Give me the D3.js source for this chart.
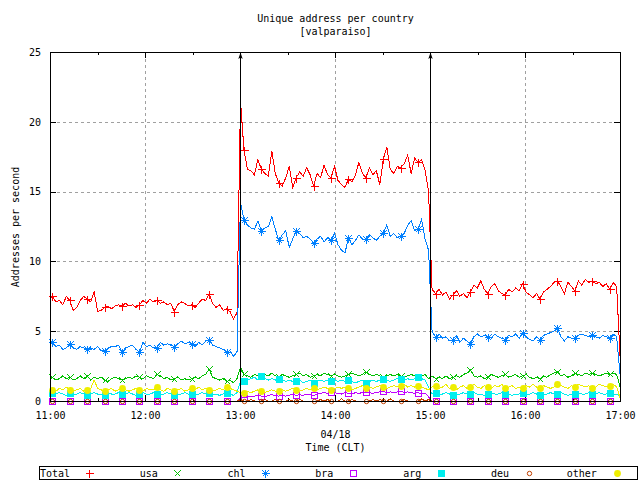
<!DOCTYPE html>
<html><head><meta charset="utf-8">
<script src="https://cdn.jsdelivr.net/npm/d3@7"></script>
<style>
html,body{margin:0;padding:0;background:#fff;width:640px;height:480px;overflow:hidden}
svg{display:block}
</style>
</head><body>
<svg id="c" width="640" height="480"></svg>
<script>
// ---------------- DATA ----------------
const titleLines = ["Unique address per country", "[valparaiso]"];
const yAxisTitle = "Addresses per second";
const xAxisTitleLines = ["04/18", "Time (CLT)"];
const xTickMinutes = [0, 60, 120, 180, 240, 300, 360];
const xTickLabels = ["11:00", "12:00", "13:00", "14:00", "15:00", "16:00", "17:00"];
const xMinorMinutes = [30, 90, 150, 210, 270, 330];
const yTicks = [0, 5, 10, 15, 20, 25];
const gridMinutes = [60, 120, 180, 240, 300];
const gridValues = [5, 10, 15, 20];
const arrowMinutes = [120, 240];
const seriesNames = ["Total", "usa", "chl", "bra", "arg", "deu", "other"];
// samples: minute offset from 11:00 = startMin + i*stepMin ; markers every 5th sample
const startMin = -0.7, stepMin = 2.2;

// segment A: 11:00-13:00, B: 13:00-15:00, C: 15:00-17:00 (55 samples each)
const totalA = [7.3,7.5,7.1,7.2,6.9,7.5,7.2,6.5,6.7,7.2,7.5,7.3,7.1,7.8,6.4,6.5,6.7,6.8,6.6,6.8,6.9,6.8,7.0,6.8,6.9,6.7,6.9,7.2,7.0,7.3,7.1,7.2,7.0,7.1,6.9,7.0,6.4,6.9,7.1,7.0,6.8,6.9,6.7,7.0,7.3,7.2,7.7,7.0,6.7,6.9,6.5,6.6,6.4,5.9,6.3];
const totalB = [21.5,18.0,16.6,16.5,16.2,17.3,16.6,16.3,16.1,17.9,16.3,15.6,15.4,16.0,16.8,15.3,16.0,16.4,16.1,16.7,16.2,15.4,16.3,16.0,16.9,16.2,16.0,16.8,15.8,15.5,15.3,15.9,15.7,16.2,17.1,16.3,16.0,16.7,16.2,16.5,15.5,17.3,18.2,16.6,16.3,16.8,16.7,17.0,17.6,16.3,17.4,17.1,17.3,16.5,15.0];
const totalC = [8.0,7.7,8.0,7.6,7.8,7.3,7.6,7.9,7.5,7.7,7.4,7.8,8.3,8.1,8.6,8.0,7.7,8.2,8.4,7.9,7.7,7.6,8.0,7.8,8.1,7.9,8.4,7.8,7.6,7.4,7.7,7.3,7.8,8.0,8.2,8.5,8.6,8.2,7.7,8.5,8.2,7.9,8.6,8.3,8.7,8.5,8.6,8.4,8.5,8.2,8.4,8.0,8.5,8.2,3.0];

const usaA = [1.7,1.7,1.5,1.6,1.8,1.6,1.7,1.5,1.6,1.8,1.6,1.8,1.5,1.7,1.6,1.7,1.5,1.4,1.6,1.7,1.6,1.5,1.6,1.7,1.6,1.8,1.7,1.6,1.8,1.7,1.6,1.9,1.8,1.6,1.7,1.5,1.6,1.7,1.5,1.6,1.5,1.6,1.7,1.6,1.8,1.9,2.3,1.7,1.6,1.5,1.6,1.4,1.5,1.3,1.6];
const usaB = [2.4,1.9,1.8,1.7,1.9,1.8,1.7,1.9,1.8,2.0,1.8,1.7,1.9,1.8,1.7,1.8,1.9,2.0,1.8,1.9,1.7,1.8,1.9,1.8,2.0,1.9,1.8,1.9,1.8,1.7,1.8,1.9,2.0,1.9,1.8,1.9,2.1,1.9,1.8,1.9,1.8,1.7,1.8,1.9,1.8,1.9,1.8,1.7,1.8,1.9,1.8,1.7,1.8,1.9,1.6];
const usaC = [1.8,1.6,1.7,1.6,1.8,1.6,1.7,1.8,1.7,1.9,2.0,2.25,1.8,1.7,1.8,1.6,1.7,1.9,1.8,1.7,1.8,1.9,1.7,1.8,1.9,1.7,1.8,1.9,1.7,1.6,1.7,1.6,1.8,1.7,1.9,2.0,2.1,1.8,1.9,1.7,1.8,2.0,1.9,1.8,2.0,1.9,2.0,1.9,1.8,1.9,2.0,1.9,2.0,1.9,1.0];

const chlA = [4.3,4.2,3.9,4.0,3.7,3.8,4.1,3.8,3.7,3.9,3.8,3.7,3.8,3.7,3.9,3.6,3.6,3.8,3.9,3.9,4.0,3.5,3.8,3.9,4.0,3.7,3.5,4.2,3.9,4.0,3.8,3.8,4.2,4.0,4.1,4.0,3.9,4.1,4.3,4.1,4.2,4.1,3.9,4.2,4.0,4.3,4.4,4.0,3.9,3.8,3.7,3.5,3.6,3.2,3.5];
const chlB = [14.2,13.0,12.6,12.4,12.3,12.9,12.2,12.4,12.5,13.2,12.3,11.5,11.9,12.2,11.0,11.6,12.2,12.0,11.7,11.8,11.6,11.3,11.6,11.8,11.4,11.7,11.5,12.0,11.2,10.8,10.6,11.7,11.2,11.5,11.9,11.6,11.6,11.9,11.7,11.5,11.8,12.0,12.6,11.8,12.0,11.7,11.8,12.0,12.6,12.9,12.2,12.3,13.0,11.6,10.8];
const chlC = [5.0,4.6,4.8,4.5,4.6,4.3,4.4,4.7,4.2,4.5,4.3,4.1,4.6,4.8,4.6,4.7,4.6,4.5,4.8,4.6,4.5,4.4,4.7,4.6,4.8,4.5,4.9,4.6,4.4,4.3,4.6,4.4,4.7,4.8,4.9,5.0,5.2,4.6,4.3,4.6,4.5,4.5,4.7,4.8,4.7,4.6,4.7,4.6,4.5,4.7,4.6,4.5,4.8,4.6,1.8];

const braA = [0,0,0,0,0,0,0,0,0,0,0,0,0,0,0,0,0,0,0,0,0,0,0,0,0,0,0,0,0,0,0,0,0,0,0,0,0,0,0,0,0,0,0,0,0,0,0,0,0,0,0,0,0,0,0];
const braB = [0.2,0.25,0.3,0.3,0.35,0.4,0.35,0.3,0.4,0.45,0.4,0.35,0.4,0.35,0.4,0.5,0.4,0.45,0.4,0.5,0.45,0.4,0.5,0.55,0.6,0.55,0.65,0.6,0.55,0.5,0.6,0.55,0.5,0.6,0.55,0.6,0.65,0.6,0.55,0.6,0.65,0.7,0.6,0.65,0.6,0.65,0.7,0.6,0.65,0.6,0.55,0.6,0.5,0.55,0.3];
const braC = [0,0,0,0,0,0,0,0,0,0,0,0,0,0,0,0,0,0,0,0,0,0,0,0,0,0,0,0,0,0,0,0,0,0,0,0,0,0,0,0,0,0,0,0,0,0,0,0,0,0,0,0,0,0,0];

const argA = [0.5,0.6,0.5,0.6,0.5,0.4,0.6,0.5,0.5,0.6,0.5,0.4,0.5,0.6,0.5,0.5,0.4,0.6,0.5,0.5,0.6,0.5,0.5,0.6,0.5,0.4,0.5,0.6,0.5,0.5,0.6,0.5,0.4,0.5,0.6,0.5,0.4,0.5,0.5,0.6,0.5,0.5,0.4,0.5,0.6,0.5,0.6,0.5,0.5,0.4,0.5,0.6,0.5,0.4,0.6];
const argB = [1.4,1.4,1.5,1.6,1.7,1.5,1.8,1.6,1.5,1.6,1.5,1.6,1.5,1.4,1.5,1.4,1.4,1.5,1.3,1.4,1.5,1.3,1.4,1.5,1.4,1.5,1.4,1.5,1.4,1.5,1.4,1.5,1.4,1.3,1.4,1.5,1.3,1.4,1.5,1.4,1.5,1.6,1.5,1.4,1.5,1.6,1.6,1.5,1.6,1.5,1.6,1.7,1.6,1.5,1.0];
const argC = [0.5,0.6,0.5,0.5,0.6,0.5,0.4,0.5,0.5,0.6,0.5,0.5,0.6,0.5,0.5,0.4,0.5,0.6,0.5,0.5,0.6,0.5,0.5,0.4,0.5,0.5,0.6,0.5,0.5,0.6,0.5,0.4,0.5,0.5,0.6,0.5,0.5,0.6,0.5,0.4,0.5,0.5,0.6,0.5,0.5,0.6,0.5,0.5,0.6,0.5,0.5,0.6,0.5,0.5,0.3];

const deuA = [0,0,0,0,0,0,0,0,0,0,0,0,0,0,0,0,0,0,0,0,0,0,0,0,0,0,0,0,0,0,0,0,0,0,0,0,0,0,0,0,0,0,0,0,0,0,0,0,0,0,0,0,0,0,0];
const deuB = [0.1,0,0,0.1,0,0,0,0.1,0,0,0.1,0,0,0,0.1,0,0,0.1,0,0,0,0,0,0.1,0,0.1,0,0,0,0.15,0,0,0.1,0,0,0,0,0,0.1,0,0.1,0,0,0.15,0,0,0,0.1,0,0,0,0,0.15,0,0.1];
const deuC = [0,0,0,0,0,0,0,0,0,0,0,0,0,0,0,0,0,0,0,0,0,0,0,0,0,0,0,0,0,0,0,0,0,0,0,0,0,0,0,0,0,0,0,0,0,0,0,0,0,0,0,0,0,0,0];

const otherA = [0.9,0.8,0.7,0.9,0.8,1.0,0.8,0.7,0.8,0.9,0.7,0.8,0.9,1.5,0.9,0.8,0.7,0.8,0.9,0.7,0.8,0.9,0.8,0.7,0.8,0.9,0.8,0.7,0.9,0.8,0.8,1.0,0.8,0.7,0.9,0.8,0.7,0.8,0.9,0.7,0.8,0.9,0.8,1.0,0.8,0.9,0.8,0.7,0.8,0.9,0.8,1.0,0.9,0.8,0.7];
const otherB = [0.6,0.6,0.7,0.6,0.7,0.8,0.7,0.6,0.7,0.8,0.7,0.7,0.8,0.7,0.8,0.9,0.8,0.7,0.8,0.9,0.8,0.9,0.8,0.9,1.0,0.9,0.8,0.9,1.0,0.9,1.0,0.9,0.8,0.9,1.0,1.1,0.9,1.0,0.9,1.0,1.1,1.0,0.9,1.0,1.1,1.0,1.1,1.2,1.0,1.1,1.0,1.1,1.0,0.9,0.8];
const otherC = [1.0,1.1,0.9,1.0,1.2,0.9,1.0,0.8,1.0,1.1,0.9,1.0,1.2,1.0,0.9,1.1,1.0,0.9,1.1,1.0,1.2,0.9,1.0,1.1,0.9,1.0,0.9,1.1,1.0,1.2,1.0,0.9,1.1,1.0,0.9,1.0,1.2,1.1,1.0,0.9,1.1,1.0,1.2,1.1,1.0,1.1,0.9,1.0,1.2,1.1,1.0,1.1,1.2,1.0,0.2];

const segs = {totalA,totalB,totalC,usaA,usaB,usaC,chlA,chlB,chlC,braA,braB,braC,argA,argB,argC,deuA,deuB,deuC,otherA,otherB,otherC};
const bad = Object.entries(segs).filter(([k,v]) => v.length !== 55).map(([k,v]) => k + "=" + v.length);
if (bad.length) throw new Error("segment lengths: " + bad.join(", "));

const total = [...totalA, ...totalB, ...totalC];
const usa = [...usaA, ...usaB, ...usaC];
const chl = [...chlA, ...chlB, ...chlC];
const bra = [...braA, ...braB, ...braC];
const arg = [...argA, ...argB, ...argC];
const deu = [...deuA, ...deuB, ...deuC];
const other = [...otherA, ...otherB, ...otherC];

// ---------------- DRAW ----------------
const font = "'DejaVu Sans Mono', monospace";
const svg = d3.select("#c");
svg.append("rect").attr("width", 640).attr("height", 480).attr("fill", "#fff");

const x = d3.scaleLinear().domain([0, 360]).range([50, 620]);
const y = d3.scaleLinear().domain([0, 25]).range([401, 52]);

// grid
const grid = svg.append("g").attr("stroke", "#a0a0a0").attr("stroke-dasharray", "3,3")
  .attr("shape-rendering", "crispEdges");
gridMinutes.forEach(m => grid.append("line")
  .attr("x1", x(m) + .5).attr("x2", x(m) + .5).attr("y1", y(25) + .5).attr("y2", y(0) + .5));
gridValues.forEach(v => grid.append("line")
  .attr("x1", x(0) + .5).attr("x2", x(360) + .5).attr("y1", y(v) + .5).attr("y2", y(v) + .5));

function styleAxis(g) {
  g.select(".domain").remove();
  g.attr("font-family", font).attr("font-size", 10);
  g.selectAll("text").attr("fill", "#000");
  g.selectAll("line").attr("stroke", "#000").attr("shape-rendering", "crispEdges");
}
// x axes
svg.append("g").attr("transform", `translate(0,${y(0)})`)
  .call(d3.axisBottom(x).tickValues(xTickMinutes).tickFormat((d, i) => xTickLabels[i]).tickSize(-6).tickPadding(11))
  .call(styleAxis);
svg.append("g").attr("transform", `translate(0,${y(0)})`)
  .call(d3.axisBottom(x).tickValues(xMinorMinutes).tickFormat("").tickSize(-3)).call(styleAxis);
svg.append("g").attr("transform", `translate(0,${y(25)})`)
  .call(d3.axisTop(x).tickValues(xTickMinutes).tickFormat("").tickSize(-6)).call(styleAxis);
svg.append("g").attr("transform", `translate(0,${y(25)})`)
  .call(d3.axisTop(x).tickValues(xMinorMinutes).tickFormat("").tickSize(-3)).call(styleAxis);
// y axes
svg.append("g").attr("transform", `translate(${x(0)},0)`)
  .call(d3.axisLeft(y).tickValues(yTicks).tickSize(-6).tickPadding(9)).call(styleAxis);
svg.append("g").attr("transform", `translate(${x(360)},0)`)
  .call(d3.axisRight(y).tickValues(yTicks).tickFormat("").tickSize(-6)).call(styleAxis);

// clip for data lines
svg.append("defs").append("clipPath").attr("id", "clip").append("rect")
  .attr("x", x(0) + .5).attr("y", 0).attr("width", x(360) - x(0) + .5).attr("height", 480);

function drawMarker(g, type, cx, cy, color) {
  cx = Math.round(cx) + 0.5; cy = Math.round(cy) + 0.5;
  const r = 3, rp = 4;
  const st = sel => sel.attr("stroke", color).attr("fill", "none").attr("stroke-width", 1).attr("shape-rendering", "crispEdges");
  if (type === "plus") st(g.append("path").attr("d", `M${cx - rp},${cy}H${cx + rp}M${cx},${cy - rp}V${cy + rp}`));
  else if (type === "cross") st(g.append("path").attr("d", `M${cx - r},${cy - r}L${cx + r},${cy + r}M${cx - r},${cy + r}L${cx + r},${cy - r}`));
  else if (type === "star") st(g.append("path").attr("d", `M${cx - rp},${cy}H${cx + rp}M${cx},${cy - rp}V${cy + rp}M${cx - r},${cy - r}L${cx + r},${cy + r}M${cx - r},${cy + r}L${cx + r},${cy - r}`));
  else if (type === "box") st(g.append("rect").attr("x", cx - r).attr("y", cy - r).attr("width", 2 * r).attr("height", 2 * r));
  else if (type === "fbox") g.append("rect").attr("x", cx - r - .5).attr("y", cy - r - .5).attr("width", 2 * r + 1).attr("height", 2 * r + 1).attr("fill", color).attr("shape-rendering", "crispEdges");
  else if (type === "circle") st(g.append("circle").attr("cx", cx).attr("cy", cy).attr("r", 2.2)).attr("shape-rendering", null);
  else if (type === "fcircle") g.append("circle").attr("cx", cx).attr("cy", cy).attr("r", 3.4).attr("fill", color);
}

const series = [
  {name: seriesNames[0], values: total, color: "#ff0000", marker: "plus"},
  {name: seriesNames[1], values: usa,   color: "#00c000", marker: "cross"},
  {name: seriesNames[2], values: chl,   color: "#0080ff", marker: "star"},
  {name: seriesNames[3], values: bra,   color: "#c000ff", marker: "box"},
  {name: seriesNames[4], values: arg,   color: "#00eeee", marker: "fbox"},
  {name: seriesNames[5], values: deu,   color: "#c04000", marker: "circle"},
  {name: seriesNames[6], values: other, color: "#eeee00", marker: "fcircle"}
];

const tOf = i => startMin + i * stepMin;
const line = d3.line().x((d, i) => x(tOf(i))).y(d => y(d));
const dataG = svg.append("g");
series.forEach(s => {
  dataG.append("path").attr("d", line(s.values)).attr("fill", "none")
    .attr("stroke", s.color).attr("stroke-width", 1).attr("shape-rendering", "crispEdges")
    .attr("clip-path", "url(#clip)");
  s.values.forEach((v, i) => {
    if ((i - 1) % 5 === 0 && tOf(i) >= 0 && tOf(i) <= 360) drawMarker(dataG, s.marker, x(tOf(i)), y(v), s.color);
  });
});

// arrows
arrowMinutes.forEach(m => {
  const ax = x(m) + .5;
  svg.append("line").attr("x1", ax).attr("x2", ax).attr("y1", y(0) + .5).attr("y2", y(25) + 6)
    .attr("stroke", "#000").attr("shape-rendering", "crispEdges");
  svg.append("path").attr("d", `M${ax},${y(25) + .5}L${ax + 2.2},${y(25) + 7}L${ax},${y(25) + 5.5}L${ax - 2.2},${y(25) + 7}Z`)
    .attr("fill", "#000");
});

// border
svg.append("rect").attr("x", x(0) + .5).attr("y", y(25) + .5).attr("width", x(360) - x(0)).attr("height", y(0) - y(25))
  .attr("fill", "none").attr("stroke", "#000").attr("shape-rendering", "crispEdges");

// titles
const txt = (tx, ty, s, anchor) => svg.append("text").attr("x", tx).attr("y", ty).text(s)
  .attr("font-family", font).attr("font-size", 10).attr("fill", "#000").attr("text-anchor", anchor || "middle");
const cxPlot = (x(0) + x(360)) / 2 + .5;
txt(cxPlot, 22, titleLines[0]);
txt(cxPlot, 35, titleLines[1]);
txt(cxPlot, 438, xAxisTitleLines[0]);
txt(cxPlot, 451, xAxisTitleLines[1]);
svg.append("text").attr("transform", `translate(19,${(y(0) + y(25)) / 2 + .5}) rotate(-90)`)
  .attr("text-anchor", "middle").attr("font-family", font).attr("font-size", 10).attr("fill", "#000").text(yAxisTitle);

// legend
svg.append("rect").attr("x", 39.5).attr("y", 466.5).attr("width", 598).attr("height", 13)
  .attr("fill", "none").attr("stroke", "#000").attr("shape-rendering", "crispEdges");
const legG = svg.append("g");
series.forEach((s, i) => {
  txt(70 + 87.8 * i, 477, s.name, "end");
  drawMarker(legG, s.marker, 89 + 88 * i, 472.5, s.color);
});
</script>
</body></html>
